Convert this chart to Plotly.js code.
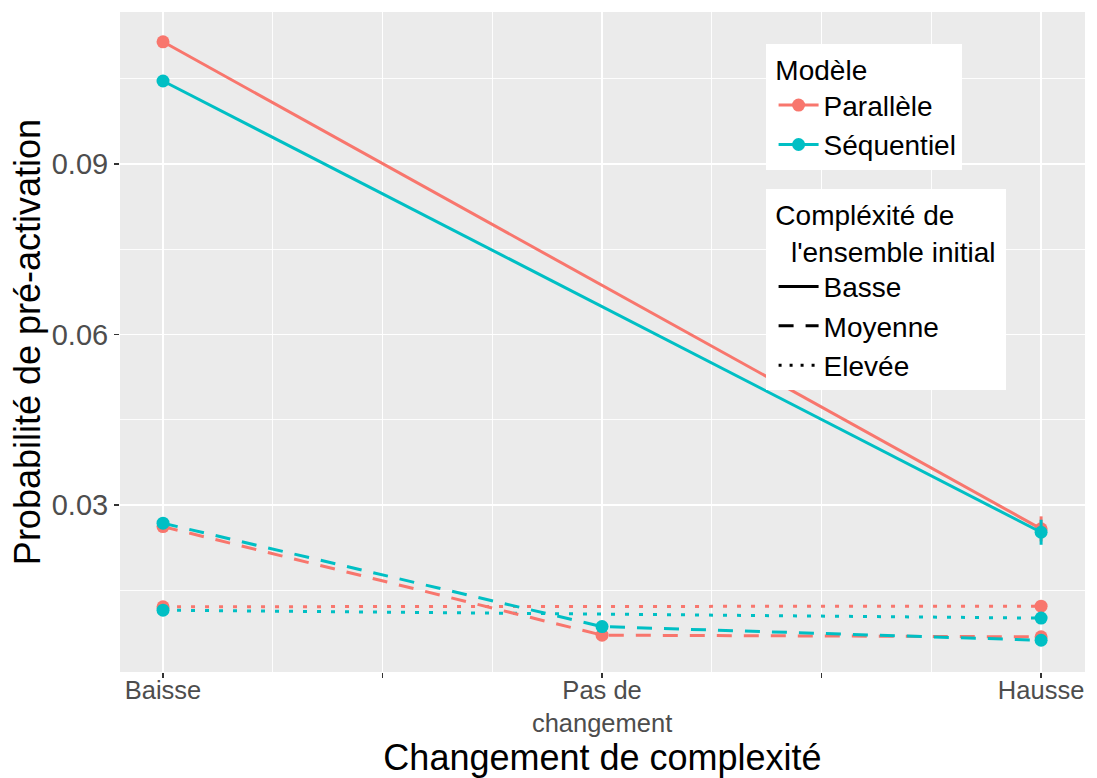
<!DOCTYPE html>
<html>
<head>
<meta charset="utf-8">
<script src="https://cdn.plot.ly/plotly-3.0.1.min.js"></script>
<style>html,body{margin:0;padding:0;background:#fff;}#chart{width:1097px;height:778px;}</style>
</head>
<body>
<div id="chart"></div>
<script>
// Categories (positions 1, 2, 3 on the x axis)
const categories = ["Baisse", "Pas de<br>changement", "Hausse"];
const catPos = [1, 2, 3];

// Series values (null = no point at that category)
const parBasse = [0.1115, null, 0.0258];
const seqBasse = [0.1046, null, 0.0252];
const parMoyenne = [0.0262, 0.0071, 0.0068];
const seqMoyenne = [0.0268, 0.0086, 0.0062];
const parElevee = [0.0121, null, 0.0122];
const seqElevee = [0.0115, null, 0.0101];

// Error half-widths
const parBasseErr = [0.0008, 0, 0.0022];
const seqBasseErr = [0.0008, 0, 0.0022];
const parMoyenneErr = [0.0009, 0.0003, 0.0004];
const seqMoyenneErr = [0.0006, 0.0003, 0.0004];
const parEleveeErr = [0.0003, 0, 0.0003];
const seqEleveeErr = [0.0003, 0, 0.0003];

const RED = "#F8766D", CYAN = "#00BFC4";
const DASH = "15px,12px", DOT = "4px,10px";

function series(y, err, color, dash) {
  return {
    type: "scatter", mode: "lines+markers", x: catPos, y: y,
    connectgaps: true, showlegend: false, hoverinfo: "skip",
    line: {color: color, width: 3, dash: dash},
    marker: {color: color, size: 13},
    error_y: {type: "data", array: err, visible: true, color: color, thickness: 3, width: 0}
  };
}

const traces = [
  series(parElevee, parEleveeErr, RED, DOT),
  series(seqElevee, seqEleveeErr, CYAN, DOT),
  series(parMoyenne, parMoyenneErr, RED, DASH),
  series(seqMoyenne, seqMoyenneErr, CYAN, DASH),
  series(parBasse, parBasseErr, RED, "solid"),
  series(seqBasse, seqBasseErr, CYAN, "solid"),
  // legend 1: Modèle
  {type: "scatter", mode: "lines+markers", x: [null], y: [null], name: "Parallèle", legend: "legend",
   line: {color: RED, width: 3}, marker: {color: RED, size: 13}},
  {type: "scatter", mode: "lines+markers", x: [null], y: [null], name: "Séquentiel", legend: "legend",
   line: {color: CYAN, width: 3}, marker: {color: CYAN, size: 13}},
  // legend 2: complexity
  {type: "scatter", mode: "lines", x: [null], y: [null], name: "Basse", legend: "legend2",
   line: {color: "#000", width: 3, dash: "solid"}},
  {type: "scatter", mode: "lines", x: [null], y: [null], name: "Moyenne", legend: "legend2",
   line: {color: "#000", width: 3, dash: "15px,12px"}},
  {type: "scatter", mode: "lines", x: [null], y: [null], name: "Elevée", legend: "legend2",
   line: {color: "#000", width: 3, dash: "3px,8px"}}
];

const FONT = "Liberation Sans, Arial, sans-serif";
const layout = {
  width: 1097, height: 778,
  paper_bgcolor: "#FFFFFF", plot_bgcolor: "#EBEBEB",
  margin: {l: 120, r: 12, t: 12, b: 106},
  font: {family: FONT, color: "#000"},
  xaxis: {
    range: [0.902, 3.1], zeroline: false, showline: false,
    tickmode: "array", tickvals: [1, 1.5, 2, 2.5, 3],
    ticktext: [categories[0], "", categories[1], "", categories[2]],
    ticks: "outside", ticklen: 5, tickwidth: 1.2, tickcolor: "#333333",
    ticklabelstandoff: -10,
    tickfont: {family: FONT, size: 25.5, color: "#4D4D4D"},
    showgrid: true, gridcolor: "#FFFFFF", gridwidth: 1.8,
    minor: {tickmode: "array", tickvals: [1.25, 1.75, 2.25, 2.75], showgrid: true, gridcolor: "#FFFFFF", gridwidth: 0.9, ticks: ""},
    title: {text: "Changement de complexité", font: {family: FONT, size: 36, color: "#000"}, standoff: 6}
  },
  yaxis: {
    range: [0.000616, 0.11674], zeroline: false, showline: false,
    tickmode: "array", tickvals: [0.03, 0.06, 0.09], ticktext: ["0.03", "0.06", "0.09"],
    ticks: "outside", ticklen: 5, tickwidth: 1.2, tickcolor: "#333333",
    tickfont: {family: FONT, size: 29, color: "#4D4D4D"},
    showgrid: true, gridcolor: "#FFFFFF", gridwidth: 1.8,
    minor: {tickmode: "array", tickvals: [0.015, 0.045, 0.075, 0.105], showgrid: true, gridcolor: "#FFFFFF", gridwidth: 0.9, ticks: ""},
    title: {text: "Probabilité de pré-activation", font: {family: FONT, size: 36, color: "#000"}, standoff: 0}
  },
  legend: {
    x: 0.669, y: 0.9515, xanchor: "left", yanchor: "top",
    bgcolor: "#FFFFFF", borderwidth: 0, indentation: 8,
    font: {family: FONT, size: 28, color: "#000"},
    title: {text: "&nbsp;Modèle&nbsp;&nbsp;&nbsp;&nbsp;", font: {family: FONT, size: 28, color: "#000"}},
    tracegroupgap: 0, itemwidth: 40
  },
  legend2: {
    x: 0.669, y: 0.732, xanchor: "left", yanchor: "top",
    bgcolor: "#FFFFFF", borderwidth: 0, indentation: 8,
    font: {family: FONT, size: 28, color: "#000"},
    title: {text: "&nbsp;Compléxité de<br>&nbsp;&nbsp;&nbsp;l'ensemble initial&nbsp;", font: {family: FONT, size: 28, color: "#000"}},
    tracegroupgap: 0, itemwidth: 40
  },
  showlegend: true
};

Plotly.newPlot("chart", traces, layout, {displayModeBar: false, staticPlot: true});
</script>
</body>
</html>
